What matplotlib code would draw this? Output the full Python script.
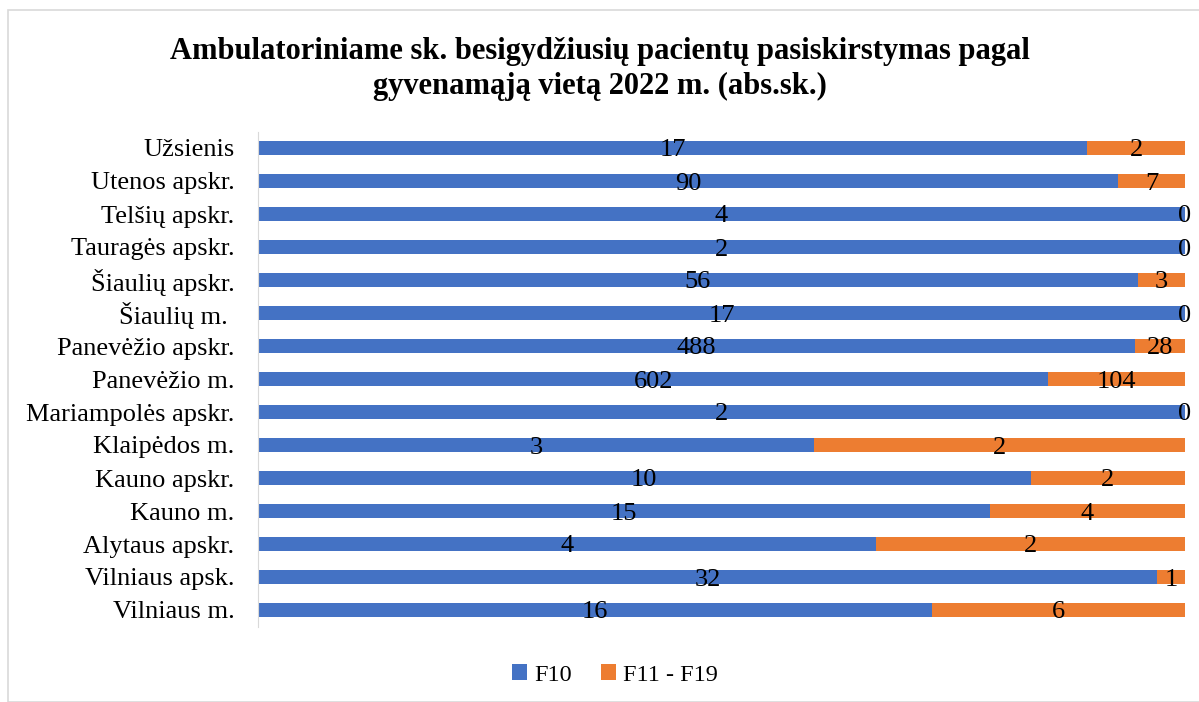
import numpy as np
import matplotlib.pyplot as plt
from matplotlib.patches import Rectangle

# categories listed bottom to top
regions = ["Vilniaus m.", "Vilniaus apsk.", "Alytaus apskr.", "Kauno m.", "Kauno apskr.",
           "Klaipėdos m.", "Mariampolės apskr.", "Panevėžio m.", "Panevėžio apskr.",
           "Šiaulių m. ", "Šiaulių apskr.", "Tauragės apskr.", "Telšių apskr.",
           "Utenos apskr.", "Užsienis"]
f10 = [16, 32, 4, 15, 10, 3, 2, 602, 488, 17, 56, 2, 4, 90, 17]
f11_19 = [6, 1, 2, 4, 2, 2, 0, 104, 28, 0, 3, 0, 0, 7, 2]

title = "Ambulatoriniame sk. besigydžiusių pacientų pasiskirstymas pagal\ngyvenamąją vietą 2022 m. (abs.sk.)"

plt.rcParams['font.family'] = ['Liberation Serif', 'DejaVu Serif']

blue = "#4472C4"
orange = "#ED7D31"

a = np.array(f10, dtype=float)
b = np.array(f11_19, dtype=float)
tot = a + b
pa = a / tot
pb = b / tot
y = np.arange(len(regions))

fig = plt.figure(figsize=(11.99, 7.02), dpi=100)
ax = fig.add_axes([258/1199, 1 - 626.5/702, (1185-258)/1199, 495/702])

h = 0.41
ax.barh(y, pa, height=h, color=blue, label="F10")
ax.barh(y, pb, left=pa, height=h, color=orange, label="F11 - F19")

for i in range(len(regions)):
    ax.text(pa[i]/2, y[i], str(f10[i]), ha="center", va="center_baseline", fontsize=19)
    ax.text(pa[i] + pb[i]/2, y[i], str(f11_19[i]), ha="center", va="center_baseline", fontsize=19)

ax.set_xlim(0, 1)
ax.set_ylim(-0.5, len(regions) - 0.5)
ax.set_yticks(y)
ax.set_yticklabels(regions, fontsize=19)
ax.set_xticks([])
ax.tick_params(axis="y", length=0, pad=17)
for s in ["top", "right", "bottom"]:
    ax.spines[s].set_visible(False)
ax.spines["left"].set_color("#d9d9d9")

fig.text(0.5, 1 - 69/702, title, ha="center", va="center", fontsize=22,
         fontweight="bold", linespacing=1.3)

fig.legend(loc="center", bbox_to_anchor=(0.513, 1 - 675/702), ncol=2, frameon=False,
           fontsize=17.5, handlelength=0.6, handleheight=0.6, handletextpad=0.3,
           columnspacing=1.2)

fig.patches.append(Rectangle((8/1199, 0), 2, 1 - 10/702, transform=fig.transFigure,
                             fill=False, edgecolor="#d9d9d9", lw=1.2))

fig.savefig("out.png", dpi=100)
